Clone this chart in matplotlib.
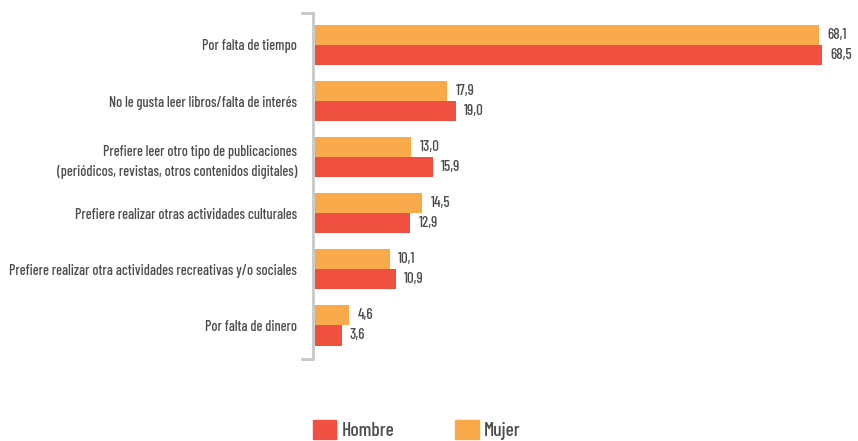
import matplotlib
matplotlib.use("Agg")
import matplotlib.pyplot as plt
from matplotlib.patches import Patch
import numpy as np

# datos (porcentajes)
categorias = [
    "Por falta de tiempo",
    "No le gusta leer libros/falta de interés",
    "Prefiere leer otro tipo de publicaciones\n(periódicos, revistas, otros contenidos digitales)",
    "Prefiere realizar otras actividades culturales",
    "Prefiere realizar otra actividades recreativas y/o sociales",
    "Por falta de dinero",
]
mujer = [68.1, 17.9, 13.0, 14.5, 10.1, 4.6]
hombre = [68.5, 19.0, 15.9, 12.9, 10.9, 3.6]

color_hombre = "#F0503F"
color_mujer = "#F8AA4B"
gris_texto = "#4d4d4d"

plt.rcParams["font.family"] = ["Barlow Condensed", "DejaVu Sans"]
plt.rcParams["font.weight"] = "medium"

fig = plt.figure(figsize=(8.58, 4.41), dpi=100)
ax = fig.add_axes([315 / 858, 1 - 359 / 441, 1 - 315 / 858, (359 - 13) / 441])

y = np.arange(len(categorias))
h = 0.36
bm = ax.barh(y - h / 2, mujer, height=h, color=color_mujer)
bh = ax.barh(y + h / 2, hombre, height=h, color=color_hombre)

def fmt(v):
    return ("%.1f" % v).replace(".", ",")

for bars, vals in ((bm, mujer), (bh, hombre)):
    for b, v in zip(bars, vals):
        ax.annotate(fmt(v), (b.get_width(), b.get_y() + b.get_height() / 2),
                    xytext=(6, 0), textcoords="offset points",
                    va="center", ha="left", fontsize=10.8, color=gris_texto)

ax.set_xlim(0, 68.5 * 543 / 507)
ax.set_ylim(len(categorias) - 0.4, -0.57)
ax.set_yticks(y)
ax.set_yticklabels(categorias, fontsize=10.3, color=gris_texto, linespacing=1.55)
ax.tick_params(axis="y", length=0, pad=13)
ax.set_xticks([])
for s in ax.spines.values():
    s.set_visible(False)

# corchete del eje
ax.plot([-0.024, -0.0037, -0.0037, -0.024], [1, 1, 0, 0], transform=ax.transAxes,
        color="#c8c8c8", lw=2, clip_on=False, solid_joinstyle="miter")

handles = [Patch(color=color_hombre, label="Hombre"), Patch(color=color_mujer, label="Mujer")]
fig.legend(handles=handles, loc="center left", bbox_to_anchor=(313 / 858, 1 - 430 / 441),
           ncol=2, frameon=False, fontsize=14, handlelength=1.2, handleheight=1.1,
           handletextpad=0.3, columnspacing=3.1, borderpad=0, borderaxespad=0,
           labelcolor=gris_texto)

fig.savefig("out.png", dpi=100)
